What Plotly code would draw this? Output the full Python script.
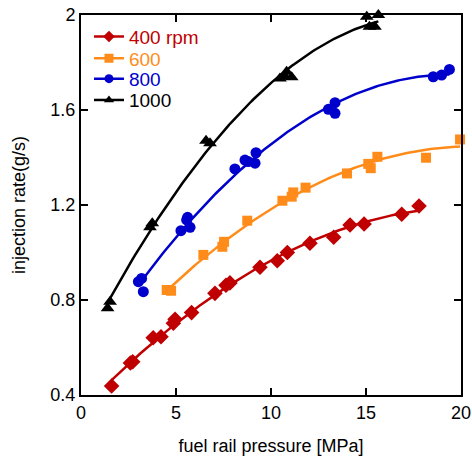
import numpy as np
import plotly.graph_objects as go

# ---- data ----
x400 = [1.61, 2.6, 2.72, 3.8, 4.21, 4.86, 4.95, 5.82, 7.05, 7.63, 7.84, 9.42, 10.33, 10.86, 12.05, 13.3, 14.16, 14.9, 16.88, 17.79]
y400 = [0.438, 0.535, 0.54, 0.641, 0.645, 0.702, 0.719, 0.747, 0.828, 0.862, 0.872, 0.938, 0.965, 1.0, 1.039, 1.064, 1.116, 1.12, 1.161, 1.196]

x600 = [4.51, 4.74, 6.44, 7.44, 7.53, 8.75, 10.6, 11.09, 11.17, 11.82, 14.0, 15.12, 15.25, 15.6, 18.16, 19.95]
y600 = [0.842, 0.839, 0.99, 1.024, 1.045, 1.134, 1.218, 1.235, 1.253, 1.273, 1.333, 1.373, 1.355, 1.403, 1.399, 1.476]

x800 = [3.02, 3.19, 3.28, 5.26, 5.56, 5.61, 5.74, 8.1, 8.63, 8.8, 9.16, 9.21, 13.02, 13.37, 13.37, 18.54, 18.98, 19.39]
y800 = [0.877, 0.891, 0.835, 1.092, 1.137, 1.148, 1.106, 1.352, 1.389, 1.383, 1.376, 1.42, 1.603, 1.631, 1.586, 1.74, 1.747, 1.771]

x1000 = [1.4, 1.53, 3.63, 3.75, 6.58, 6.79, 10.47, 10.74, 10.82, 11.09, 15.04, 15.18, 15.47, 15.65]
y1000 = [0.765, 0.793, 1.106, 1.123, 1.471, 1.46, 1.733, 1.74, 1.761, 1.738, 1.993, 1.951, 1.951, 2.0]

names = ["400 rpm", "600", "800", "1000"]
x_ticks = [0, 5, 10, 15, 20]
y_ticks = [0.4, 0.8, 1.2, 1.6, 2]

series = [
    (names[0], x400, y400, "#C00000", "diamond", 12),
    (names[1], x600, y600, "#FF8C1A", "square", 10),
    (names[2], x800, y800, "#0000CC", "circle", 11),
    (names[3], x1000, y1000, "#000000", "triangle-up", 12),
]

FONT = "Liberation Sans, Arial, sans-serif"
fig = go.Figure()

legend_ids = ["legend", "legend2", "legend3", "legend4"]
legend_y = [0.943, 0.886, 0.832, 0.776]

for i, (name, xs, ys, color, sym, size) in enumerate(series):
    # quadratic trend line fitted to the data (as in the original)
    c = np.polyfit(xs, ys, 2)
    xf = np.linspace(min(xs), max(xs), 120)
    yf = np.polyval(c, xf)
    fig.add_trace(go.Scatter(x=xf, y=yf, mode="lines", line=dict(color=color, width=2.5),
                             showlegend=False, hoverinfo="skip"))
    fig.add_trace(go.Scatter(x=xs, y=ys, mode="markers", cliponaxis=False,
                             marker=dict(symbol=sym, size=size, color=color, line=dict(width=0)),
                             showlegend=False))
    # legend entry
    fig.add_trace(go.Scatter(x=[None], y=[None], mode="lines+markers", name=name,
                             legend=legend_ids[i],
                             line=dict(color=color, width=2.5),
                             marker=dict(symbol=sym, size=9, color=color)))

axis_common = dict(
    showline=True, linecolor="black", linewidth=2, mirror="ticks",
    ticks="inside", ticklen=7, tickwidth=2, tickcolor="black",
    showgrid=False, zeroline=False, automargin=False,
    tickfont=dict(family=FONT, size=18, color="black"),
)

fig.update_xaxes(range=[0, 20], tickvals=x_ticks, ticktext=[str(v) for v in x_ticks],
                 title=dict(text="fuel rail pressure [MPa]", font=dict(family=FONT, size=18, color="black"), standoff=18),
                 **axis_common)
fig.update_yaxes(range=[0.4, 2], tickvals=y_ticks, ticktext=[str(v) for v in y_ticks],
                 title=dict(text="injection rate(g/s)", font=dict(family=FONT, size=18, color="black"), standoff=20),
                 **axis_common)

layout_legends = {}
for i, lid in enumerate(legend_ids):
    layout_legends[lid] = dict(x=0.021, y=legend_y[i], xanchor="left", yanchor="middle",
                               bgcolor="rgba(0,0,0,0)", borderwidth=0,
                               font=dict(family=FONT, size=19, color=series[i][3]))

fig.update_layout(
    width=472, height=456,
    margin=dict(l=81, r=11, t=15, b=61),
    paper_bgcolor="white", plot_bgcolor="white",
    font=dict(family=FONT, size=18, color="black"),
    **layout_legends,
)

fig.write_html("out.html")
